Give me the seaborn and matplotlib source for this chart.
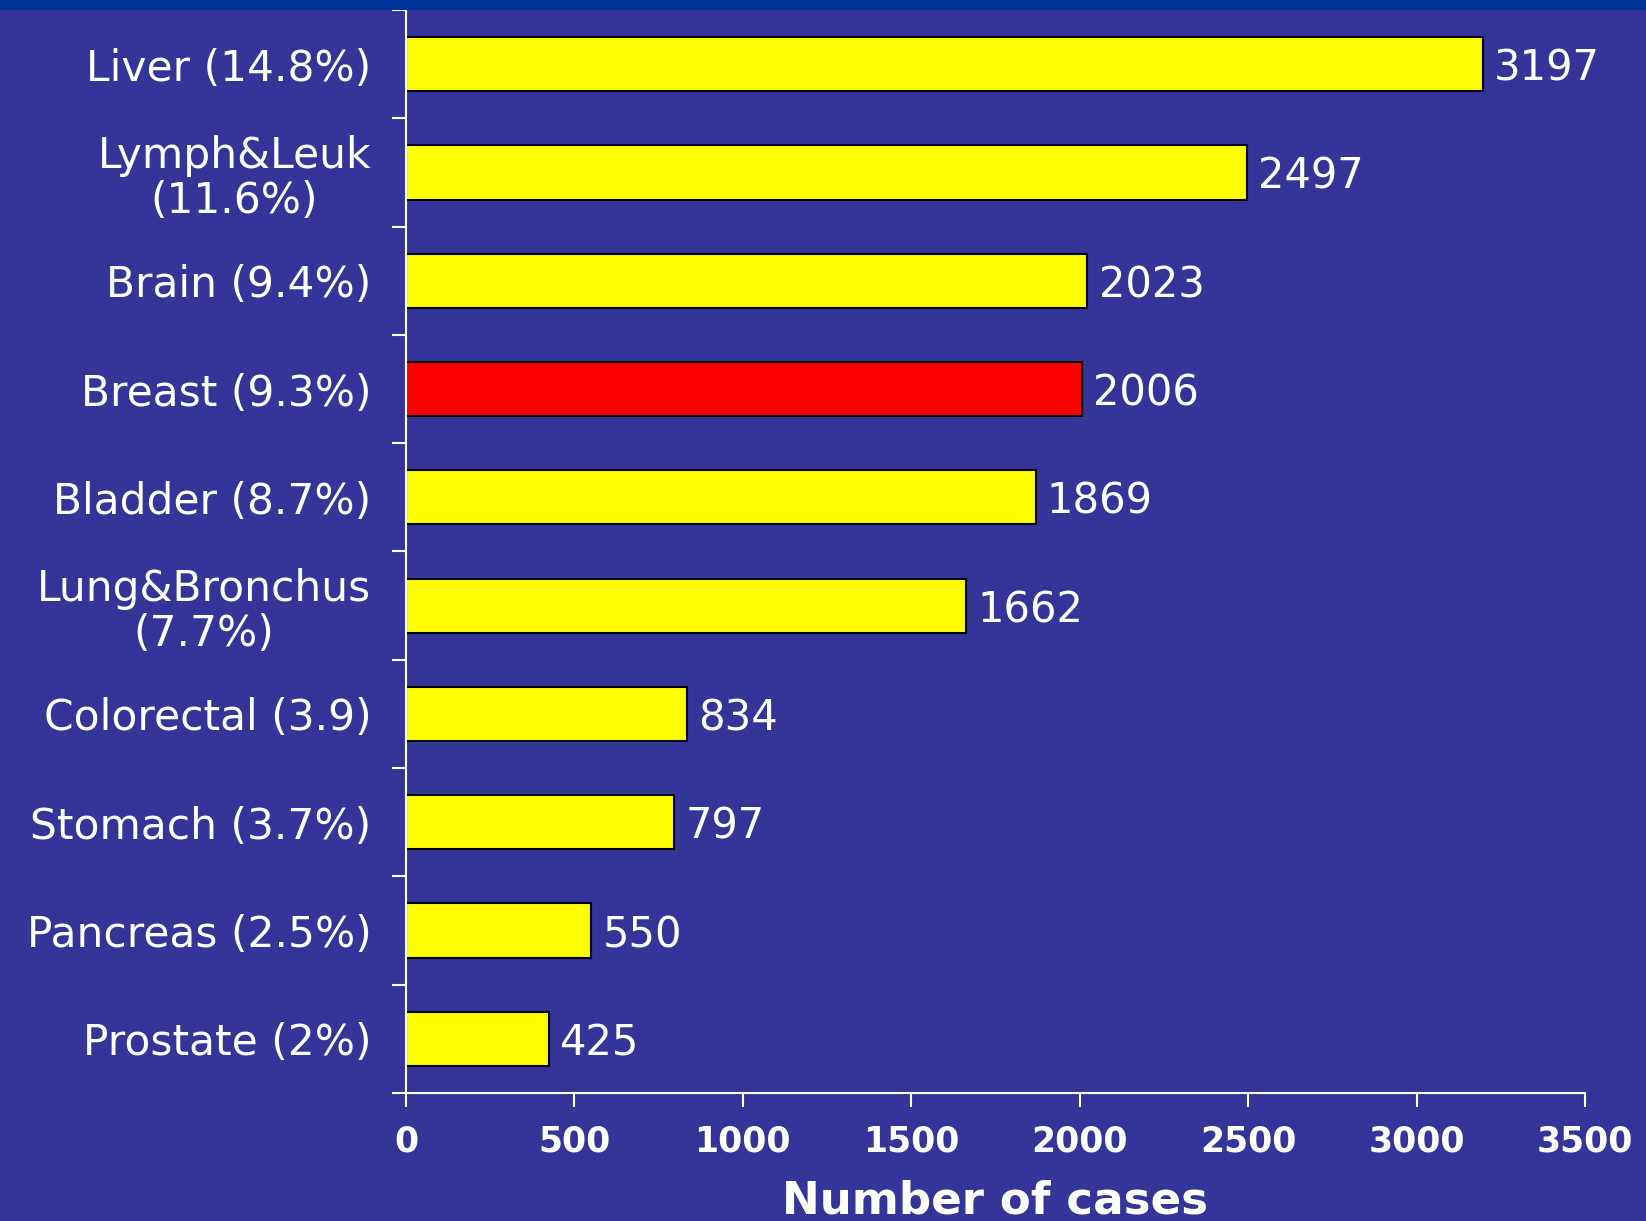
import matplotlib
matplotlib.use("Agg")
import matplotlib.pyplot as plt
import seaborn as sns
import numpy as np
import pandas as pd
from matplotlib.patches import Rectangle

categories = ["Liver (14.8%)", "Lymph&Leuk\n(11.6%)", "Brain (9.4%)", "Breast (9.3%)",
              "Bladder (8.7%)", "Lung&Bronchus\n(7.7%)", "Colorectal (3.9)",
              "Stomach (3.7%)", "Pancreas (2.5%)", "Prostate (2%)"]
cases = [3197, 2497, 2023, 2006, 1869, 1662, 834, 797, 550, 425]
bar_colors = ["#FFFF00", "#FFFF00", "#FFFF00", "#FF0000", "#FFFF00",
              "#FFFF00", "#FFFF00", "#FFFF00", "#FFFF00", "#FFFF00"]
xticks = [0, 500, 1000, 1500, 2000, 2500, 3000, 3500]

BG = "#343499"
sns.set_theme(style="white")
plt.rcParams['font.family'] = ['DejaVu Sans']

df = pd.DataFrame({"cat": categories, "cases": cases})

fig = plt.figure(figsize=(16.46, 12.21), dpi=100, facecolor=BG)
fig.patches.append(Rectangle((0, 1 - 10 / 1221), 1, 10 / 1221, transform=fig.transFigure,
                             facecolor="#003399", edgecolor="none", zorder=0))
ax = fig.add_axes([406 / 1646, 128 / 1221, (1585 - 406) / 1646, (1093 - 10) / 1221])
ax.set_facecolor(BG)

sns.barplot(data=df, x="cases", y="cat", hue="cat", palette=bar_colors, legend=False,
            orient="h", width=0.5, edgecolor="black", linewidth=1.5, ax=ax, saturation=1)

for i, v in enumerate(cases):
    ax.annotate(str(v), xy=(v, i), xytext=(8, 0), textcoords="offset points",
                ha="left", va="center_baseline", color="white", fontsize=30)

ax.set_xlim(0, 3500)
ax.set_ylim(9.5, -0.5)
ax.set_xticks(xticks)
ax.set_xticklabels([str(t) for t in xticks], fontsize=25, fontweight="bold", color="white")
ax.tick_params(axis="x", which="major", direction="out", length=10, width=1.5,
               color="white", pad=13, bottom=True)
ax.set_yticks(range(len(categories)))
ax.set_yticklabels(categories, fontsize=30.5, color="white")
for lab in ax.get_yticklabels():
    lab.set_multialignment("center")
    lab.set_linespacing(1.1)
ax.set_yticks(np.arange(-0.5, len(categories), 1.0), minor=True)
ax.tick_params(axis="y", which="major", length=0, pad=25, left=True)
ax.tick_params(axis="y", which="minor", direction="out", length=10, width=1.5,
               color="white", left=True)

for s in ["top", "right"]:
    ax.spines[s].set_visible(False)
for s in ["left", "bottom"]:
    ax.spines[s].set_color("white")
    ax.spines[s].set_linewidth(1.5)

ax.set_ylabel("")
ax.set_xlabel("Number of cases", fontsize=32.5, fontweight="bold", color="white", labelpad=15)

fig.savefig("out.png", dpi=100, facecolor=BG)
